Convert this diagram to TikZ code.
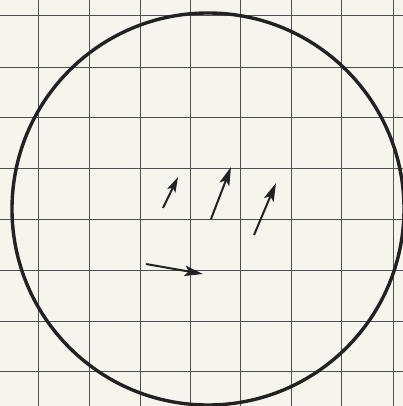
\documentclass[tikz,border=0pt]{standalone}
\usepackage{tikz}
\usetikzlibrary{arrows.meta}

\definecolor{paper}{RGB}{246,244,236}
\definecolor{gridink}{RGB}{80,80,80}
\definecolor{pen}{RGB}{35,33,33}

\begin{document}
\begin{tikzpicture}[
    x=0.25mm,
    y=-0.25mm,
    gridline/.style={
        draw=gridink,
        line width=0.22mm
    },
    rim/.style={
        draw=pen,
        line width=0.85mm
    },
    vec/.style={
        draw=pen,
        line width=0.5mm,
        -{Stealth[length=4.6mm,width=2.6mm,inset=1mm]}
    },
    smallvec/.style={
        vec,
        -{Stealth[length=3.8mm,width=2.2mm,inset=0.8mm]}
    }
]

% paper
\fill[paper] (0,0) rectangle (403,406);
\useasboundingbox (0,0) rectangle (403,406);

% squared ruling
\foreach \gx in {38,89,140,190,240,291,341,393}
    \draw[gridline] (\gx,0) -- (\gx,406);
\foreach \gy in {15,67,117,168,219,270,321,371}
    \draw[gridline] (0,\gy) -- (403,\gy);

% outline
\coordinate (centre) at (208,209);
\draw[rim] (centre) circle[radius=49mm];

% vectors
\coordinate (tailA) at (163,208);
\coordinate (headA) at (178,177);
\coordinate (tailB) at (211,219);
\coordinate (headB) at (231,167);
\coordinate (tailC) at (254,235);
\coordinate (headC) at (276,183);
\coordinate (tailD) at (146,264);
\coordinate (headD) at (203,274);

\draw[smallvec] (tailA) -- (headA);
\draw[vec] (tailB) -- (headB);
\draw[vec] (tailC) -- (headC);
\draw[vec] (tailD) -- (headD);

\end{tikzpicture}
\end{document}
